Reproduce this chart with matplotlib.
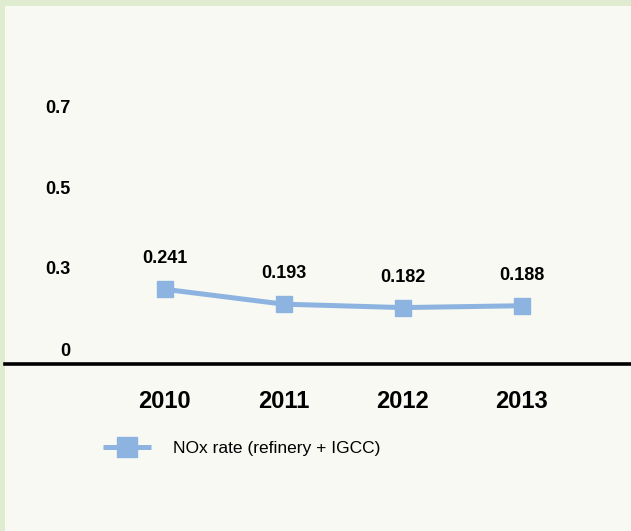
import matplotlib
matplotlib.use("Agg")
import matplotlib.pyplot as plt

# data
years = ["2010", "2011", "2012", "2013"]
nox_rate = [0.241, 0.193, 0.182, 0.188]
ytick_labels = ["0", "0.3", "0.5", "0.7"]
series_name = "NOx rate (refinery + IGCC)"

plt.rcParams['font.family'] = ['Liberation Sans', 'DejaVu Sans']

W, H = 631, 531
fig = plt.figure(figsize=(W / 100, H / 100), dpi=100)
fig.patch.set_facecolor("#dfecd0")

# inner panel inside the green border
bg = fig.add_axes([5 / W, 0, 1 - 5 / W, 1 - 6 / H], zorder=0)
bg.axis("off")
bg.add_patch(plt.Rectangle((0, 0), 1, 1, transform=bg.transAxes, facecolor="#f7f9f2", edgecolor="none"))

ax = fig.add_axes([5 / W, (H - 364) / H, 1 - 5 / W, (364 - 6) / H], zorder=1)
ax.set_facecolor("none")

xs = list(range(len(years)))
line_color = "#8db3e0"
ax.plot(xs, nox_rate, color=line_color, lw=3.6, marker="s", markersize=12,
        label=series_name, solid_capstyle="butt")

for x, v in zip(xs, nox_rate):
    ax.annotate(f"{v:.3f}", (x, v), xytext=(0, 22), textcoords="offset points",
                ha="center", va="center", fontsize=13, fontweight="bold")

ax.set_xlim(-1.345, 3.92)
ax.set_ylim(0, 1.155)

ax.set_xticks(xs)
ax.set_xticklabels(years, fontsize=17, fontweight="bold")
ax.set_yticks([0.048, 0.31, 0.57, 0.83])
ax.set_yticklabels(ytick_labels, fontsize=13, fontweight="bold")
ax.tick_params(axis="x", length=0, pad=19)
ax.tick_params(axis="y", length=0, pad=-47)

for s in ["top", "right", "left"]:
    ax.spines[s].set_visible(False)
ax.spines["bottom"].set_linewidth(2.6)
ax.spines["bottom"].set_color("black")

ax.legend(loc="center left", bbox_to_anchor=(87 / W, 1 - 448 / H), bbox_transform=fig.transFigure,
          frameon=False, fontsize=12.5, handlelength=2.8, handletextpad=1.25, markerscale=1.15)

fig.savefig("out.png", dpi=100, facecolor=fig.get_facecolor())
